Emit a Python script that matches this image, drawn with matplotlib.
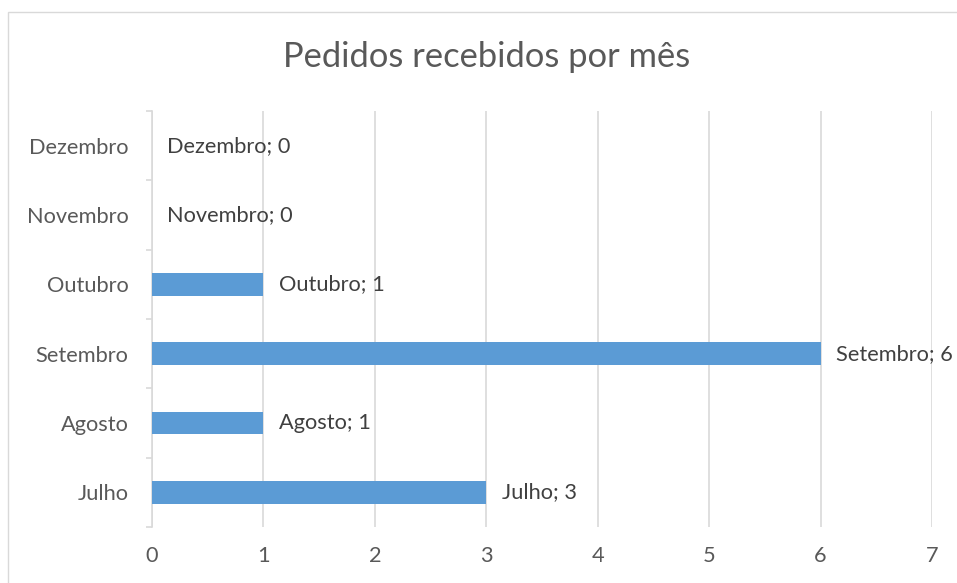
import matplotlib
matplotlib.use("Agg")
import matplotlib.pyplot as plt
from matplotlib.patches import Rectangle
import numpy as np

plt.rcParams['font.family'] = ['Lato', 'DejaVu Sans']

categories = ["Julho", "Agosto", "Setembro", "Outubro", "Novembro", "Dezembro"]
values = [3, 1, 6, 1, 0, 0]
xticks = [0, 1, 2, 3, 4, 5, 6, 7]
title = "Pedidos recebidos por mês"

bar_color = "#5B9BD5"
grid_color = "#D9D9D9"
text_color = "#595959"

W, H = 957, 583
fig = plt.figure(figsize=(W/100, H/100), dpi=100)
fig.patch.set_facecolor("white")

# chart border
fig.patches.append(Rectangle((8/W, -0.5), 2, 1 - 12/H + 0.5, transform=fig.transFigure,
                             fill=False, edgecolor=grid_color, linewidth=1.0))

ax = fig.add_axes([152/W, 1 - 527/H, (932-152)/W, (527-111)/H])
y = np.arange(len(categories))
ax.barh(y, values, height=0.33, color=bar_color, zorder=3)

ax.set_xlim(0, 7)
ax.set_ylim(-0.5, len(categories) - 0.5)
ax.set_xticks(xticks)
ax.set_xticklabels([str(t) for t in xticks])
ax.set_yticks(y)
ax.set_yticklabels(categories)
ax.set_yticks(np.arange(-0.5, len(categories), 1), minor=True)

ax.grid(axis='x', color=grid_color, linewidth=1.2, zorder=0)
ax.set_axisbelow(True)
for s in ['top', 'right', 'bottom']:
    ax.spines[s].set_visible(False)
ax.spines['left'].set_color(grid_color)
ax.spines['left'].set_linewidth(1.2)

fs = 15.7
ax.tick_params(axis='x', length=0, pad=14, labelsize=fs, labelcolor=text_color)
ax.tick_params(axis='y', which='major', length=0, pad=17, labelsize=fs, labelcolor=text_color)
ax.tick_params(axis='y', which='minor', length=4, width=1.2, color=grid_color)

for yi, (c, v) in zip(y, zip(categories, values)):
    ax.annotate(f"{c}; {v}", xy=(v, yi), xytext=(11, 0), textcoords='offset points',
                va='center', ha='left', fontsize=fs, color="#404040", zorder=4)

fig.text(487/W, 1 - 57/H, title, ha='center', va='center', fontsize=24.8, color=text_color)

fig.savefig("out.png", dpi=100)
